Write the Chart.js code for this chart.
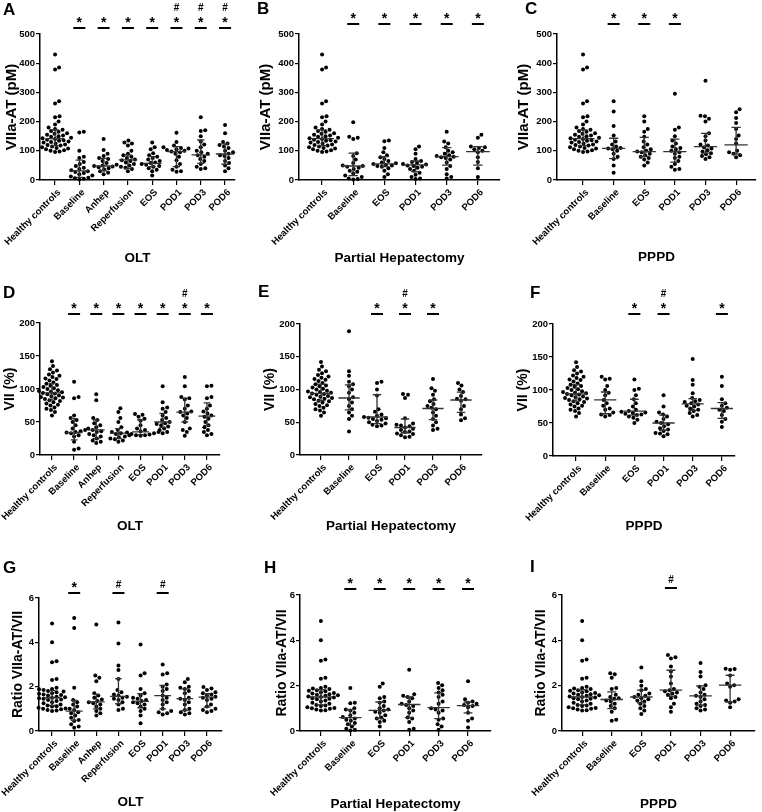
<!DOCTYPE html>
<html>
<head>
<meta charset="utf-8">
<script src="https://cdn.jsdelivr.net/npm/chart.js@4.4.1/dist/chart.umd.min.js"></script>
<style>
  html, body { margin: 0; padding: 0; background: #fff; }
  #fig { position: relative; width: 762px; height: 812px; }
  #fig canvas { position: absolute; }
</style>
</head>
<body>
<div id="fig"></div>
<script>
// ====== CATEGORIES ======
const catsOLT = ['Healthy controls', 'Baseline', 'Anhep', 'Reperfusion', 'EOS', 'POD1', 'POD3', 'POD6'];
const catsPH = ['Healthy controls', 'Baseline', 'EOS', 'POD1', 'POD3', 'POD6'];
const catsPPPD = ['Healthy controls', 'Baseline', 'EOS', 'POD1', 'POD3', 'POD6'];

// ====== HEALTHY CONTROLS (same in every row) ======
const hcVIIaAT = [430, 385, 378, 270, 262, 218, 215, 200, 190, 180, 175, 172, 168, 165, 160, 158, 155, 152, 150, 148, 145,
  143, 140, 138, 136, 134, 132, 130, 128, 125, 122, 120, 118, 115, 112, 110, 108, 105, 102, 100, 98, 96];
const hcVII = [142, 135, 130, 128, 125, 122, 120, 118, 116, 115, 113, 110, 108, 106, 105, 103, 101, 100, 98, 97, 96,
  95, 94, 93, 92, 90, 89, 88, 87, 86, 85, 83, 82, 80, 78, 76, 75, 72, 70, 68, 65, 60];
const hcRatio = [4.85, 4.0, 3.15, 3.1, 2.35, 2.3, 1.95, 1.9, 1.88, 1.85, 1.8, 1.78, 1.75, 1.7, 1.68, 1.65, 1.62, 1.6, 1.58, 1.55,
  1.52, 1.5, 1.48, 1.45, 1.42, 1.4, 1.35, 1.3, 1.25, 1.2, 1.15, 1.12, 1.1, 1.05, 1.02, 1.0, 0.98, 0.95, 0.92, 0.9];

// ====== A: VIIa-AT, OLT ======
const aValues = [
  hcVIIaAT,
  [165, 163, 100, 80, 75, 62, 55, 48, 42, 38, 33, 30, 27, 24, 20, 15, 12, 8, 6, 4, 2],
  [140, 103, 90, 82, 75, 72, 65, 58, 52, 50, 48, 46, 44, 40, 36, 30, 25, 20],
  [135, 128, 125, 118, 100, 90, 85, 80, 75, 70, 68, 65, 60, 55, 50, 45, 42, 38, 30],
  [128, 112, 105, 92, 85, 80, 75, 70, 65, 60, 58, 55, 52, 48, 45, 40, 35, 30, 15],
  [162, 130, 118, 112, 110, 108, 105, 103, 100, 98, 95, 90, 80, 68, 55, 45, 35, 30, 28],
  [215, 170, 168, 150, 132, 122, 112, 100, 95, 90, 85, 80, 72, 65, 55, 45, 40, 38],
  [188, 160, 130, 125, 120, 115, 110, 100, 95, 90, 85, 82, 75, 65, 58, 50, 40, 30]
];
const aMed = [142, 31, 48, 69, 57, 97, 86, 89];
const aQ1 = [118, 9, 31, 40, 46, 46, 57, 54];
const aQ3 = [172, 68, 74, 86, 80, 114, 137, 124];
const aStar = [0, 1, 1, 1, 1, 1, 1, 1];
const aHash = [0, 0, 0, 0, 0, 1, 1, 1];

// ====== B: VIIa-AT, partial hepatectomy ======
const bValues = [
  hcVIIaAT,
  [198, 148, 145, 140, 92, 82, 70, 58, 50, 48, 45, 42, 38, 32, 28, 22, 15, 10, 5, 3, 2],
  [135, 133, 110, 95, 85, 78, 72, 65, 60, 57, 55, 52, 50, 48, 45, 40, 32, 20, 10],
  [115, 105, 90, 72, 65, 62, 58, 55, 53, 50, 48, 45, 42, 38, 32, 25, 18, 10, 5, 3],
  [165, 132, 125, 112, 100, 95, 90, 85, 82, 80, 78, 75, 70, 60, 48, 38, 20, 10, 5],
  [155, 145, 115, 112, 110, 105, 100, 95, 78, 62, 40, 10]
];
const bMed = [142, 48, 55, 52, 80, 97];
const bQ1 = [118, 15, 46, 29, 51, 51];
const bQ3 = [172, 92, 80, 65, 111, 114];
const bStar = [0, 1, 1, 1, 1, 1];
const bHash = [0, 0, 0, 0, 0, 0];

// ====== C: VIIa-AT, PPPD ======
const cValues = [
  hcVIIaAT,
  [270, 235, 185, 152, 132, 122, 115, 110, 108, 105, 100, 90, 80, 72, 50, 25],
  [218, 200, 175, 165, 148, 132, 122, 112, 105, 100, 98, 95, 90, 85, 80, 75, 70, 60, 50],
  [295, 180, 172, 150, 135, 125, 115, 110, 105, 100, 95, 90, 80, 75, 65, 55, 45, 38, 35],
  [340, 220, 218, 210, 200, 160, 150, 135, 122, 118, 112, 108, 102, 98, 92, 88, 82, 78, 72],
  [242, 232, 212, 195, 175, 152, 140, 125, 100, 95, 90, 85, 78]
];
const cMed = [142, 108, 97, 97, 114, 120];
const cQ1 = [118, 73, 80, 61, 92, 89];
const cQ3 = [172, 143, 146, 140, 160, 180];
const cStar = [0, 1, 1, 1, 0, 0];
const cHash = [0, 0, 0, 0, 0, 0];

// ====== D: VII, OLT ======
const dValues = [
  hcVII,
  [111, 88, 86, 60, 56, 53, 50, 45, 40, 38, 36, 35, 34, 33, 30, 28, 20, 10, 8],
  [92, 83, 56, 53, 48, 45, 42, 40, 38, 36, 35, 32, 30, 28, 25, 22, 20, 18],
  [71, 65, 56, 50, 42, 38, 35, 33, 32, 30, 28, 27, 25, 24, 22, 20],
  [62, 61, 58, 55, 52, 45, 40, 38, 36, 35, 34, 33, 32, 31, 30, 30, 29],
  [104, 80, 72, 70, 65, 60, 56, 53, 50, 48, 47, 45, 43, 40, 38, 35, 33],
  [118, 104, 88, 86, 84, 75, 70, 66, 65, 63, 60, 56, 50, 40, 38, 35, 29],
  [105, 104, 88, 86, 75, 70, 66, 63, 60, 58, 55, 50, 45, 42, 38, 35, 32, 30]
];
const dMed = [94, 34, 38, 33, 35, 50, 65, 59];
const dQ1 = [83, 23, 25, 25, 31, 42, 50, 45];
const dQ3 = [108, 55, 53, 40, 53, 63, 86, 79];
const dStar = [0, 1, 1, 1, 1, 1, 1, 1];
const dHash = [0, 0, 0, 0, 0, 0, 1, 0];

// ====== E: VII, partial hepatectomy ======
const eValues = [
  hcVII,
  [189, 128, 121, 112, 108, 105, 100, 95, 88, 85, 80, 75, 70, 65, 60, 55, 36],
  [112, 110, 100, 91, 70, 66, 62, 60, 58, 57, 56, 55, 54, 52, 50, 48, 46, 45, 44],
  [93, 92, 87, 56, 48, 46, 45, 44, 42, 40, 38, 36, 35, 33, 32, 30, 28, 27],
  [116, 102, 98, 92, 85, 82, 78, 75, 72, 70, 65, 60, 55, 50, 45, 40, 38],
  [110, 106, 100, 96, 90, 86, 85, 83, 75, 70, 62, 56, 53]
];
const eMed = [94, 87, 58, 42, 71, 84];
const eQ1 = [83, 69, 48, 34, 54, 65];
const eQ3 = [108, 107, 92, 55, 84, 96];
const eStar = [0, 0, 1, 1, 1, 0];
const eHash = [0, 0, 0, 1, 0, 0];

// ====== F: VII, PPPD ======
const fValues = [
  hcVII,
  [120, 117, 116, 106, 100, 96, 92, 85, 80, 76, 72, 70, 66, 63, 62, 60],
  [116, 102, 100, 92, 86, 80, 75, 70, 68, 67, 66, 65, 64, 63, 62, 60, 58, 55, 50],
  [92, 75, 66, 63, 60, 56, 52, 50, 48, 45, 42, 40, 38, 35, 34, 33, 30],
  [147, 115, 108, 95, 88, 85, 83, 82, 80, 78, 76, 75, 72, 70, 68, 65, 62, 60],
  [120, 106, 86, 80, 76, 73, 70, 68, 62, 56, 52, 44]
];
const fMed = [94, 85, 68, 50, 79, 72];
const fQ1 = [83, 64, 62, 39, 69, 57];
const fQ3 = [108, 97, 86, 62, 87, 81];
const fStar = [0, 0, 1, 1, 0, 1];
const fHash = [0, 0, 0, 1, 0, 0];

// ====== G: ratio VIIa-AT/VII, OLT ======
const gValues = [
  hcRatio,
  [5.1, 4.65, 1.95, 1.4, 1.3, 1.2, 1.1, 1.0, 0.95, 0.85, 0.8, 0.7, 0.6, 0.5, 0.45, 0.3, 0.2, 0.15],
  [4.8, 2.5, 2.4, 2.25, 1.7, 1.6, 1.5, 1.42, 1.35, 1.3, 1.25, 1.2, 1.1, 1.0, 0.9, 0.8, 0.7],
  [4.9, 3.95, 2.95, 2.75, 2.35, 1.85, 1.75, 1.65, 1.6, 1.55, 1.5, 1.45, 1.4, 1.3, 1.2, 1.0, 0.95],
  [3.9, 2.6, 2.5, 1.9, 1.7, 1.6, 1.5, 1.45, 1.4, 1.35, 1.3, 1.25, 1.2, 1.1, 1.0, 0.9, 0.7, 0.35],
  [3.0, 2.6, 2.55, 2.1, 2.0, 1.9, 1.8, 1.6, 1.5, 1.4, 1.3, 1.2, 1.0, 0.9, 0.85, 0.8, 0.75],
  [2.35, 2.2, 2.0, 1.95, 1.9, 1.8, 1.7, 1.5, 1.45, 1.4, 1.3, 1.2, 1.0, 0.95, 0.85, 0.8, 0.75],
  [1.98, 1.92, 1.85, 1.75, 1.7, 1.65, 1.6, 1.55, 1.5, 1.45, 1.4, 1.2, 1.1, 1.0, 0.95, 0.9, 0.85]
];
const gMed = [1.5, 0.9, 1.31, 1.56, 1.34, 1.6, 1.46, 1.53];
const gQ1 = [1.15, 0.48, 1.0, 1.23, 1.05, 1.0, 0.93, 1.08];
const gQ3 = [1.82, 1.38, 1.65, 2.36, 1.68, 2.06, 1.9, 1.68];
const gStar = [0, 1, 0, 0, 0, 0, 0, 0];
const gHash = [0, 0, 0, 1, 0, 1, 0, 0];

// ====== H: ratio VIIa-AT/VII, partial hepatectomy ======
const hValues = [
  hcRatio,
  [1.9, 1.25, 1.22, 1.0, 0.95, 0.9, 0.8, 0.7, 0.62, 0.55, 0.5, 0.45, 0.35, 0.3, 0.2, 0.1, 0.05, 0.02],
  [2.1, 1.95, 1.5, 1.45, 1.3, 1.25, 1.1, 1.0, 0.95, 0.9, 0.85, 0.8, 0.7, 0.6, 0.55, 0.45, 0.4, 0.2],
  [2.7, 1.62, 1.55, 1.5, 1.45, 1.3, 1.2, 1.15, 1.1, 1.0, 0.9, 0.8, 0.6, 0.55, 0.4, 0.1, 0.05],
  [2.12, 2.02, 1.9, 1.8, 1.7, 1.6, 1.5, 1.3, 1.2, 1.0, 0.95, 0.9, 0.8, 0.55, 0.5, 0.3, 0.2, 0.05],
  [2.2, 1.4, 1.3, 1.25, 1.2, 1.15, 1.1, 1.05, 0.8, 0.55, 0.45, 0.15]
];
const hMed = [1.5, 0.59, 0.91, 1.17, 1.03, 1.12];
const hQ1 = [1.15, 0.25, 0.55, 0.59, 0.55, 0.8];
const hQ3 = [1.82, 0.94, 1.28, 1.5, 1.68, 1.28];
const hStar = [0, 1, 1, 1, 1, 1];
const hHash = [0, 0, 0, 0, 0, 0];

// ====== I: ratio VIIa-AT/VII, PPPD ======
const iValues = [
  hcRatio,
  [2.55, 2.5, 2.35, 1.9, 1.85, 1.6, 1.5, 1.45, 1.42, 1.35, 1.3, 1.2, 1.1, 1.0, 0.85, 0.5, 0.45],
  [2.8, 2.2, 2.0, 1.85, 1.8, 1.65, 1.6, 1.55, 1.5, 1.45, 1.4, 1.35, 1.3, 1.2, 1.1, 1.0, 0.9, 0.75],
  [3.35, 3.25, 3.2, 2.85, 2.62, 2.4, 2.1, 1.85, 1.8, 1.75, 1.7, 1.65, 1.6, 1.5, 1.45, 1.2, 1.05, 0.85],
  [3.0, 2.6, 2.4, 2.02, 1.95, 1.85, 1.7, 1.6, 1.55, 1.5, 1.4, 1.3, 1.2, 1.15, 1.1, 1.0, 0.95, 0.9],
  [2.75, 2.74, 2.7, 2.45, 2.1, 2.02, 1.95, 1.4, 1.35, 1.3, 1.25, 1.05]
];
const iMed = [1.5, 1.39, 1.5, 1.8, 1.55, 2.02];
const iQ1 = [1.15, 0.99, 1.24, 1.53, 1.14, 1.28];
const iQ3 = [1.82, 1.73, 1.8, 2.68, 1.99, 2.46];
const iStar = [0, 0, 0, 0, 0, 0];
const iHash = [0, 0, 0, 1, 0, 0];

// ====== PANELS (layout) ======
const FONT = "'Liberation Sans', Arial, sans-serif";
const panels = [
  { letter: 'A', cats: catsOLT, vals: aValues, med: aMed, q1: aQ1, q3: aQ3, star: aStar, hash: aHash,
    yMax: 500, yStep: 100, yTitle: 'VIIa-AT (pM)', xTitle: 'OLT',
    cell: [0, 0, 254, 270], area: [40, 34, 235, 180], xr: [-0.62, 7.41], lp: [3, 15], sig: 6, yt: 12, xt: 258 },
  { letter: 'B', cats: catsPH, vals: bValues, med: bMed, q1: bQ1, q3: bQ3, star: bStar, hash: bHash,
    yMax: 500, yStep: 100, yTitle: 'VIIa-AT (pM)', xTitle: 'Partial Hepatectomy',
    cell: [254, 0, 254, 270], area: [299, 34, 500, 180], xr: [-0.74, 5.71], lp: [3, 14], sig: 10, yt: 12, xt: 258 },
  { letter: 'C', cats: catsPPPD, vals: cValues, med: cMed, q1: cQ1, q3: cQ3, star: cStar, hash: cHash,
    yMax: 500, yStep: 100, yTitle: 'VIIa-AT (pM)', xTitle: 'PPPD',
    cell: [508, 0, 254, 270], area: [557, 34, 756, 180], xr: [-0.85, 5.65], lp: [17, 14], sig: 10, yt: 16, xt: 257 },
  { letter: 'D', cats: catsOLT, vals: dValues, med: dMed, q1: dQ1, q3: dQ3, star: dStar, hash: dHash,
    yMax: 200, yStep: 50, yTitle: 'VII (%)', xTitle: 'OLT',
    cell: [0, 270, 254, 270], area: [40, 323, 220, 455], xr: [-0.54, 7.59], lp: [3, 28], sig: 9, yt: 10, xt: 256 },
  { letter: 'E', cats: catsPH, vals: eValues, med: eMed, q1: eQ1, q3: eQ3, star: eStar, hash: eHash,
    yMax: 200, yStep: 50, yTitle: 'VII (%)', xTitle: 'Partial Hepatectomy',
    cell: [254, 270, 254, 270], area: [300, 324, 482, 455], xr: [-0.75, 5.75], lp: [4, 27], sig: 10, yt: 16, xt: 256 },
  { letter: 'F', cats: catsPPPD, vals: fValues, med: fMed, q1: fQ1, q3: fQ3, star: fStar, hash: fHash,
    yMax: 200, yStep: 50, yTitle: 'VII (%)', xTitle: 'PPPD',
    cell: [508, 270, 254, 270], area: [553, 324, 735, 456], xr: [-0.79, 5.45], lp: [22, 28], sig: 10, yt: 15, xt: 256 },
  { letter: 'G', cats: catsOLT, vals: gValues, med: gMed, q1: gQ1, q3: gQ3, star: gStar, hash: gHash,
    yMax: 6, yStep: 2, yTitle: 'Ratio VIIa-AT/VII', xTitle: 'OLT',
    cell: [0, 540, 254, 272], area: [39, 598, 222, 731], xr: [-0.59, 7.68], lp: [3, 33], sig: 5, yt: 18, xt: 262 },
  { letter: 'H', cats: catsPH, vals: hValues, med: hMed, q1: hQ1, q3: hQ3, star: hStar, hash: hHash,
    yMax: 6, yStep: 2, yTitle: 'Ratio VIIa-AT/VII', xTitle: 'Partial Hepatectomy',
    cell: [254, 540, 254, 272], area: [300, 595, 491, 731], xr: [-0.71, 5.78], lp: [10, 33], sig: 6, yt: 28, xt: 264 },
  { letter: 'I', cats: catsPPPD, vals: iValues, med: iMed, q1: iQ1, q3: iQ3, star: iStar, hash: iHash,
    yMax: 6, yStep: 2, yTitle: 'Ratio VIIa-AT/VII', xTitle: 'PPPD',
    cell: [508, 540, 254, 272], area: [562, 595, 755, 731], xr: [-0.68, 5.84], lp: [22, 32], sig: 7, yt: 33, xt: 264 }
];

const R = 2;           // dot radius
const DIA = 2 * R + 0.3;

// place points of one group side by side (beeswarm), in pixels, then back to x units
function swarm(values, pxX, pxY) {
  const order = values.map((v, i) => i).sort((a, b) => values[a] - values[b]);
  const placed = [];
  const xs = new Array(values.length).fill(0);
  order.forEach(i => {
    const py = values[i] * pxY;
    for (let k = 0; k < 400; k++) {
      const off = (k % 2 ? 1 : -1) * Math.ceil(k / 2) * 0.5;
      const hit = placed.some(p => (p.x - off) ** 2 + (p.y - py) ** 2 < DIA * DIA);
      if (!hit) { placed.push({ x: off, y: py }); xs[i] = off / pxX; break; }
    }
  });
  return xs;
}

function deco(p) {
  return {
    id: 'deco' + p.letter,
    afterDatasetsDraw(chart) {
      const { ctx, scales: { x, y }, chartArea } = chart;
      const sp = x.getPixelForValue(1) - x.getPixelForValue(0);
      ctx.save();
      // median + interquartile range
      ctx.strokeStyle = '#333';
      ctx.lineWidth = 1.3;
      p.med.forEach((m, i) => {
        const cx = x.getPixelForValue(i);
        const ym = y.getPixelForValue(m), y1 = y.getPixelForValue(p.q1[i]), y3 = y.getPixelForValue(p.q3[i]);
        const mw = sp * 0.38, cw = sp * 0.15;
        ctx.beginPath();
        ctx.moveTo(cx - mw, ym); ctx.lineTo(cx + mw, ym);
        ctx.moveTo(cx, y1); ctx.lineTo(cx, y3);
        ctx.moveTo(cx - cw, y1); ctx.lineTo(cx + cw, y1);
        ctx.moveTo(cx - cw, y3); ctx.lineTo(cx + cw, y3);
        ctx.stroke();
      });
      // significance marks
      const ly = chartArea.top - p.sig;
      ctx.fillStyle = '#000';
      ctx.strokeStyle = '#000';
      ctx.textAlign = 'center';
      ctx.textBaseline = 'middle';
      p.star.forEach((s, i) => {
        const h = p.hash[i];
        if (!s && !h) return;
        const cx = x.getPixelForValue(i);
        ctx.lineWidth = 2;
        ctx.beginPath(); ctx.moveTo(cx - 6, ly); ctx.lineTo(cx + 6, ly); ctx.stroke();
        let yy = ly - 8;
        if (s) { ctx.font = 'bold 14px ' + FONT; ctx.fillText('*', cx, yy + 3); yy -= 12; }
        if (h) { ctx.font = 'bold 10px ' + FONT; ctx.fillText('#', cx, yy); }
      });
      // panel letter
      ctx.textAlign = 'left';
      ctx.textBaseline = 'alphabetic';
      ctx.font = 'bold 17px ' + FONT;
      ctx.fillText(p.letter, p.lp[0], p.lp[1]);
      ctx.restore();
    }
  };
}

const fig = document.getElementById('fig');
panels.forEach(p => {
  const [x0, y0, w, h] = p.cell;
  const [L, T, Rt, B] = p.area;
  const cv = document.createElement('canvas');
  cv.width = w; cv.height = h;
  cv.style.left = x0 + 'px'; cv.style.top = y0 + 'px';
  cv.style.width = w + 'px'; cv.style.height = h + 'px';
  fig.appendChild(cv);

  const pxX = (Rt - L) / (p.xr[1] - p.xr[0]);
  const pxY = (B - T) / p.yMax;
  const pts = [];
  p.vals.forEach((g, gi) => {
    const xs = swarm(g, pxX, pxY);
    g.forEach((v, k) => pts.push({ x: gi + xs[k], y: v }));
  });

  const tickFont = { family: FONT, size: 9.5, weight: 'bold' };
  const titleFont = { family: FONT, size: 13.5, weight: 'bold' };
  const yTitleFont = { family: FONT, size: p.yMax === 500 ? 15 : 14, weight: 'bold' };

  new Chart(cv.getContext('2d'), {
    type: 'scatter',
    data: { datasets: [{ data: pts, pointRadius: R, pointHoverRadius: R, pointBorderWidth: 0,
      backgroundColor: '#000', borderColor: '#000', clip: false }] },
    options: {
      responsive: false,
      animation: false,
      events: [],
      layout: { padding: { left: 0, top: T - y0, right: x0 + w - Rt, bottom: 0 } },
      plugins: { legend: { display: false }, tooltip: { enabled: false } },
      scales: {
        x: {
          type: 'linear', min: p.xr[0], max: p.xr[1],
          afterBuildTicks: s => { s.ticks = p.cats.map((c, i) => ({ value: i })); },
          afterFit: s => { s.height = y0 + h - B; s.paddingLeft = 0; s.paddingRight = 0; },
          ticks: { autoSkip: false, minRotation: 45, maxRotation: 45, padding: 2, labelOffset: 4,
            color: '#000', font: tickFont, callback: v => p.cats[v] },
          grid: { drawOnChartArea: false, drawTicks: true, tickLength: 5, color: '#000', lineWidth: 1.2 },
          border: { display: true, color: '#000', width: 1.5 },
          title: { display: true, text: p.xTitle, color: '#000', font: titleFont,
            padding: { top: 0, bottom: Math.max(0, h - p.xt - 8.1) } }
        },
        y: {
          min: 0, max: p.yMax,
          afterFit: s => { s.width = L - x0; s.paddingTop = 0; s.paddingBottom = 0; },
          ticks: { stepSize: p.yStep, padding: 1, color: '#000', font: tickFont },
          grid: { drawOnChartArea: false, drawTicks: true, tickLength: 4, color: '#000', lineWidth: 1.2 },
          border: { display: true, color: '#000', width: 1.5 },
          title: { display: true, text: p.yTitle, color: '#000', font: yTitleFont,
            padding: { top: Math.max(0, p.yt - yTitleFont.size * 0.6), bottom: 0 } }
        }
      }
    },
    plugins: [deco(p)]
  });
});
</script>
</body>
</html>
